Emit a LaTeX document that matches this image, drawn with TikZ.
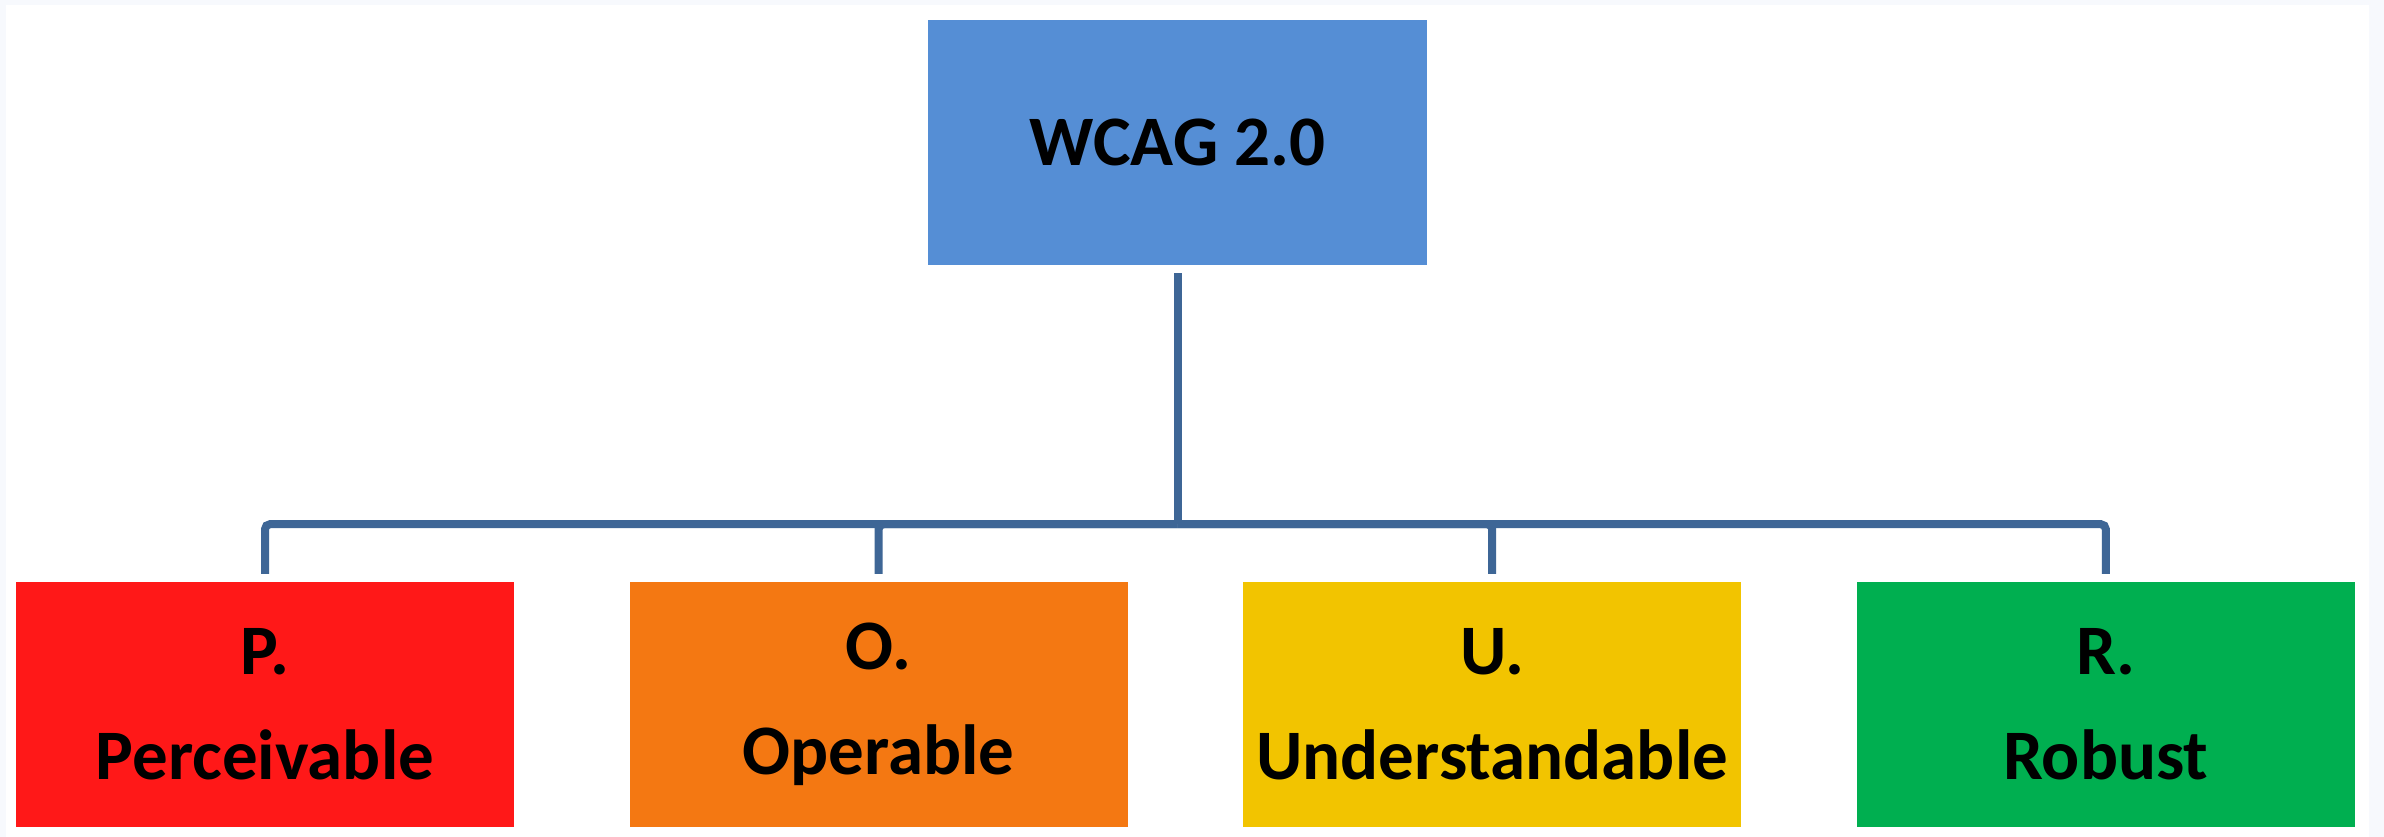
\documentclass[tikz,border=0pt]{standalone}
\usepackage{fontspec}
\setmainfont{Carlito}
\usetikzlibrary{positioning}

\definecolor{wcagblue}{HTML}{558ED5}
\definecolor{pred}{HTML}{FF1818}
\definecolor{oorange}{HTML}{F47812}
\definecolor{uyellow}{HTML}{F2C400}
\definecolor{rgreen}{HTML}{00AF50}
\definecolor{linkblue}{HTML}{3E6696}
\definecolor{pagegray}{HTML}{F7F9FD}

\begin{document}
\begin{tikzpicture}[x=1pt, y=1pt,
    box/.style={minimum width=498pt, minimum height=245pt, inner sep=0pt,
        align=center, font=\fontsize{71}{105}\selectfont\bfseries},
    conn/.style={linkblue, line width=8pt, rounded corners=5pt}]
    % Page
    \fill[pagegray] (0, 0) rectangle (2384, 837);
    \fill[white] (6, 0) rectangle (2369, 832);
    \useasboundingbox (0, 0) rectangle (2384, 837);

    % Root
    \node[box, fill=wcagblue, minimum width=499pt] (wcag) at (1177.5, 694.5) {WCAG 2.0};

    % Principles
    \node[box, fill=pred] (p) at (265, 132.5) {P.\\Perceivable};
    \node[box, fill=oorange, right=115.2pt of p] (o) {O.\\Operable};
    \node[box, fill=uyellow, right=115.2pt of o] (u) {U.\\Understandable};
    \node[box, fill=rgreen, right=115.2pt of u] (r) {R.\\Robust};

    % Tree
    \coordinate (bus) at ([yshift=-259pt]wcag.south);
    \draw[conn] ([yshift=-8pt]wcag.south) -- (bus);
    \foreach \n in {p, o, u, r}
        \draw[conn] (bus) -| ([yshift=8pt]\n.north);
\end{tikzpicture}
\end{document}
